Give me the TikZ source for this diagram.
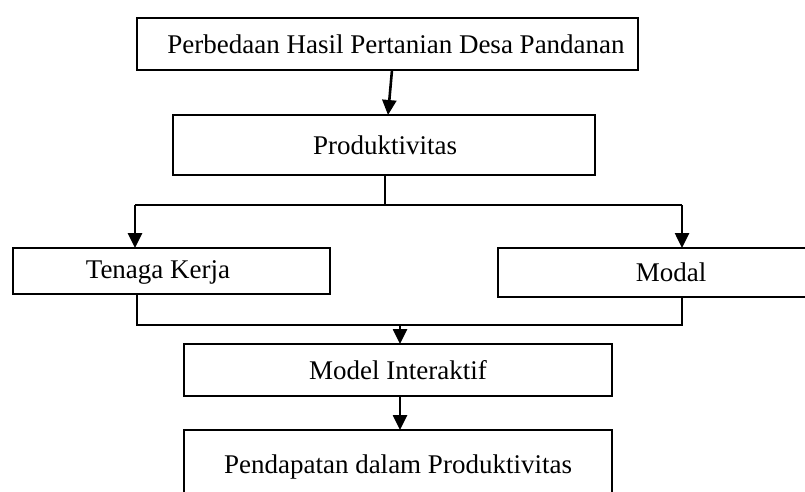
\documentclass[tikz,border=0pt]{standalone}
\usepackage{fontspec}
\setmainfont{Liberation Serif}
\usetikzlibrary{arrows.meta}
\begin{document}
\begin{tikzpicture}[x=1pt,y=-1pt,
  box/.style={draw=black,line width=2.6pt,fill=white},
  thinbox/.style={draw=black,line width=1.8pt,fill=white},
  lbl/.style={inner sep=0pt,font=\fontsize{27}{31}\selectfont},
  arr/.style={line width=2.6pt,-{Triangle[width=14pt,length=15pt]}},
  conn/.style={line width=1.8pt}]
\useasboundingbox (0,0) rectangle (805,492);
\clip (0,0) rectangle (805,492);
% boxes
\draw[box] (137,18) rectangle (638,70);
\node[lbl] (t1) at (396,44) {Perbedaan Hasil Pertanian Desa Pandanan};
\draw[box] (173,115) rectangle (595,175);
\node[lbl] (t2) at (385,145) {Produktivitas};
\draw[box] (13,248) rectangle (330,294);
\node[lbl] (t3) at (158,272) {Tenaga Kerja};
\draw[thinbox] (498,248) rectangle (815,297);
\node[lbl] (t4) at (671,272) {Modal};
\draw[box] (184,344) rectangle (612,396);
\node[lbl] (t5) at (398,370) {Model Interaktif};
\draw[box] (184,430) rectangle (612,505);
\node[lbl] (t6) at (398,467) {Pendapatan dalam Produktivitas};
% coordinates
\coordinate (a1) at (392,70);
\coordinate (a2) at (388,115);
\coordinate (p1) at (385,175);
\coordinate (p2) at (385,205);
\coordinate (l1) at (135,205);
\coordinate (r1) at (682,205);
\coordinate (l2) at (135,248);
\coordinate (r2) at (682,248);
\coordinate (tb) at (137,294);
\coordinate (tl) at (137,325);
\coordinate (mb) at (682,297);
\coordinate (ml) at (682,325);
\coordinate (c1) at (400,325);
\coordinate (c2) at (400,344);
\coordinate (d1) at (400,396);
\coordinate (d2) at (400,430);
% connectors
\draw[arr] (a1) -- (a2);
\draw[conn,line width=2.2pt] (p1) -- (p2);
\draw[conn,line width=2.2pt] (l1) -- (r1);
\draw[arr] (l1) -- (l2);
\draw[arr] (r1) -- (r2);
\draw[conn] (tb) -- (tl) -- (ml) -- (mb);
\draw[arr] (c1) -- (c2);
\draw[arr] (d1) -- (d2);
\end{tikzpicture}
\end{document}
